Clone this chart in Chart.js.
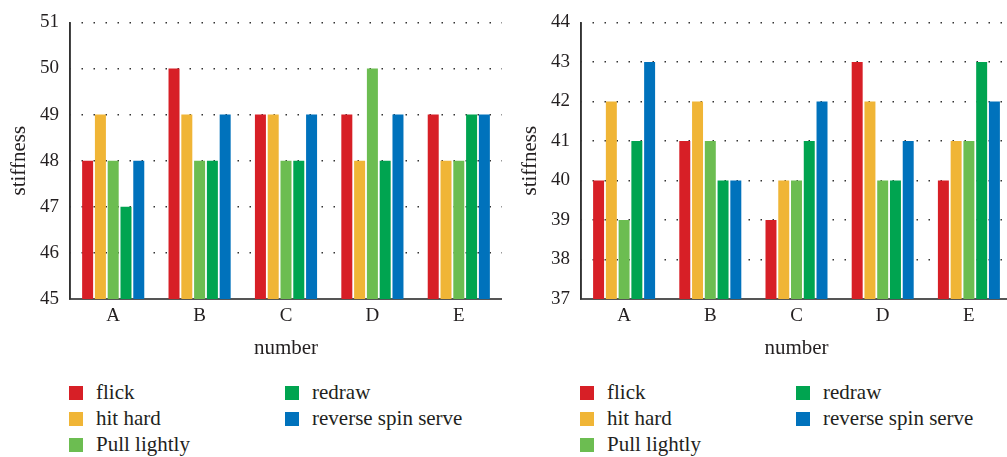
<!DOCTYPE html>
<html>
<head>
<meta charset="utf-8">
<script src="https://cdn.jsdelivr.net/npm/chart.js@4.4.1/dist/chart.umd.min.js"></script>
<style>
  html, body { margin: 0; padding: 0; background: #fff; overflow: hidden; width: 1007px; height: 457px; }
  .box { position: absolute; top: 0; height: 370px; }
  .legend { position: absolute; top: 0; left: 0; font-family: 'Liberation Serif', serif; font-size: 21px; color: #231f20; }
  .item { position: absolute; white-space: nowrap; height: 26px; line-height: 26px; }
  .item span { position: absolute; left: 0; top: 7px; width: 14px; height: 14px; }
</style>
</head>
<body>
<div class="box" style="left:0;width:502px;"><canvas id="leftChart" width="502" height="370"></canvas></div>
<div class="box" style="left:500px;width:512px;"><canvas id="rightChart" width="512" height="370"></canvas></div>
<div id="leftLegend" class="legend"></div>
<div id="rightLegend" class="legend"></div>
<script>
const categories = ['A', 'B', 'C', 'D', 'E'];
const seriesNames = ['flick', 'hit hard', 'Pull lightly', 'redraw', 'reverse spin serve'];
const seriesColors = ['#D71F26', '#F0B536', '#6CBD51', '#00A450', '#0072BC'];

// left chart
const flickL = [48, 50, 49, 49, 49];
const hitHardL = [49, 49, 49, 48, 48];
const pullLightlyL = [48, 48, 48, 50, 48];
const redrawL = [47, 48, 48, 48, 49];
const reverseSpinL = [48, 49, 49, 49, 49];
const ticksL = [45, 51];

// right chart
const flickR = [40, 41, 39, 43, 40];
const hitHardR = [42, 42, 40, 42, 41];
const pullLightlyR = [39, 41, 40, 40, 41];
const redrawR = [41, 40, 41, 40, 43];
const reverseSpinR = [43, 40, 42, 41, 42];
const ticksR = [37, 44];

const textColor = '#231f20';
const fontFamily = "'Liberation Serif', serif";

function makeChart(id, values, range, axisWidth, titleGap) {
    const ctx = document.getElementById(id).getContext('2d');
    return new Chart(ctx, {
        type: 'bar',
        data: {
            labels: categories,
            datasets: values.map((v, i) => ({
                label: seriesNames[i],
                data: v,
                backgroundColor: seriesColors[i],
                borderWidth: 0,
                categoryPercentage: 0.74,
                barPercentage: 0.86
            }))
        },
        options: {
            responsive: false,
            animation: false,
            devicePixelRatio: 1,
            layout: { padding: { top: 16, right: 0, bottom: 0, left: 0 } },
            plugins: {
                legend: { display: false },
                tooltip: { enabled: false }
            },
            scales: {
                x: {
                    grid: { display: false, drawTicks: false },
                    border: { display: true, color: '#555', width: 2 },
                    ticks: { color: textColor, padding: 6, font: { family: fontFamily, size: 19, lineHeight: 1.2 } },
                    title: {
                        display: true,
                        text: 'number',
                        color: textColor,
                        padding: { top: 0, bottom: 9 },
                        font: { family: fontFamily, size: 21, lineHeight: 1.2 }
                    },
                    afterFit: (scale) => { scale.height = 71; }
                },
                y: {
                    min: range[0],
                    max: range[1],
                    grid: {
                        color: '#333',
                        lineWidth: 1.5,
                        drawTicks: false
                    },
                    // in v4 border.dash styles the grid lines
                    border: { display: true, color: '#333', width: 1.5, dash: [1.5, 10.5], dashOffset: 1 },
                    ticks: { stepSize: 1, color: textColor, padding: 11, font: { family: fontFamily, size: 19 } },
                    title: {
                        display: true,
                        text: 'stiffness',
                        color: textColor,
                        padding: { top: titleGap, bottom: 0 },
                        font: { family: fontFamily, size: 21, lineHeight: 1.2 }
                    },
                    afterFit: (scale) => { scale.width = axisWidth; }
                }
            }
        },
        plugins: [{
            // solid y axis line
            id: 'axisLine',
            beforeDatasetsDraw(chart) {
                const { ctx, chartArea } = chart;
                ctx.save();
                ctx.setLineDash([]);
                ctx.strokeStyle = '#333';
                ctx.lineWidth = 1.6;
                ctx.beginPath();
                ctx.moveTo(chartArea.left, chartArea.top);
                ctx.lineTo(chartArea.left, chartArea.bottom);
                ctx.stroke();
                ctx.restore();
            }
        }]
    });
}

const leftChart = makeChart('leftChart', [flickL, hitHardL, pullLightlyL, redrawL, reverseSpinL], ticksL, 70, 7);
const rightChart = makeChart('rightChart', [flickR, hitHardR, pullLightlyR, redrawR, reverseSpinR], ticksR, 81, 18);

function buildLegend(el, chart, left) {
    chart.data.datasets.forEach((ds, i) => {
        const col = Math.floor(i / 3);
        const row = i % 3;
        const item = document.createElement('div');
        item.className = 'item';
        item.style.left = (left + col * 216) + 'px';
        item.style.top = (379 + row * 26) + 'px';
        item.style.paddingLeft = '27px';
        const sw = document.createElement('span');
        sw.style.background = ds.backgroundColor;
        item.appendChild(sw);
        item.appendChild(document.createTextNode(ds.label));
        el.appendChild(item);
    });
}
buildLegend(document.getElementById('leftLegend'), leftChart, 69);
buildLegend(document.getElementById('rightLegend'), rightChart, 580);
</script>
</body>
</html>
